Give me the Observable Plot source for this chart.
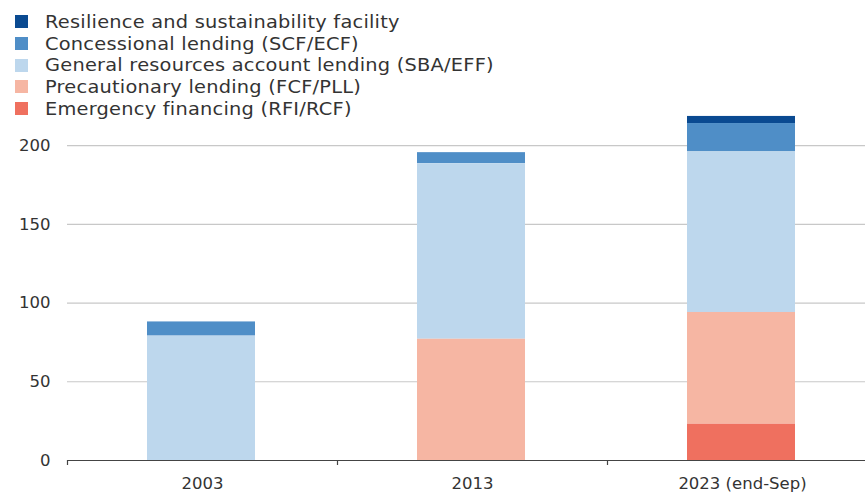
<!DOCTYPE html>
<html>
<head>
<meta charset="utf-8">
<script src="https://cdn.jsdelivr.net/npm/d3@7"></script>
<script src="https://cdn.jsdelivr.net/npm/@observablehq/plot@0.6"></script>
<style>
  html, body { margin: 0; padding: 0; background: #fff; }
  body { width: 865px; height: 497px; overflow: hidden; font-family: "DejaVu Sans", sans-serif; color: #333; }
  #legend { height: 112px; box-sizing: border-box; padding: 11px 0 0 15px; }
  .item { display: flex; align-items: center; height: 21.7px; font-size: 17px; letter-spacing: 0.2px; }
  .sw { width: 13px; height: 13px; margin-right: 17px; flex: none; }
  .lbl { display: inline-block; white-space: nowrap; transform: scaleX(1.14); transform-origin: left center; }
  svg { display: block; }
</style>
</head>
<body>
<div id="legend"></div>
<div id="chart"></div>
<script>
const years = ["2003", "2013", "2023 (end-Sep)"];
const seriesNames = [
  "Resilience and sustainability facility",
  "Concessional lending (SCF/ECF)",
  "General resources account lending (SBA/EFF)",
  "Precautionary lending (FCF/PLL)",
  "Emergency financing (RFI/RCF)"
];
const seriesColors = ["#0a4a91", "#4f8ec7", "#bdd7ed", "#f6b6a3", "#ef705f"];
const rsf = [0, 0, 4.5];
const concessional = [9, 7, 18];
const gra = [79, 111.5, 102];
const precautionary = [0, 77, 71];
const emergency = [0, 0, 23];
const yTicks = [0, 50, 100, 150, 200];

const seriesValues = [rsf, concessional, gra, precautionary, emergency];
const rows = [];
seriesNames.forEach((s, i) => years.forEach((y, j) => rows.push({year: y, series: s, value: seriesValues[i][j]})));

// Legend
const legend = document.getElementById("legend");
seriesNames.forEach((s, i) => {
  const d = document.createElement("div");
  d.className = "item";
  d.innerHTML = `<span class="sw" style="background:${seriesColors[i]}"></span><span class="lbl">${s}</span>`;
  legend.appendChild(d);
});

const chart = Plot.plot({
  width: 865,
  height: 385,
  marginLeft: 67,
  marginRight: -12,
  marginTop: 0,
  marginBottom: 37,
  style: {fontFamily: "'DejaVu Sans', sans-serif", fontSize: "16px", color: "#333", background: "#fff"},
  x: {domain: years, padding: 0, label: null},
  y: {domain: [0, 221], label: null},
  color: {domain: seriesNames, range: seriesColors},
  marks: [
    Plot.gridY(yTicks.filter(d => d > 0), {stroke: "#c8c8c8", strokeOpacity: 1, strokeWidth: 1.2}),
    Plot.barY(rows, {
      x: "year", y: "value", fill: "series",
      order: seriesNames.slice().reverse(),
      insetLeft: 80, insetRight: 82
    }),
    Plot.ruleY([0], {stroke: "#444", strokeWidth: 1.2}),
    Plot.axisY({ticks: yTicks, tickSize: 0, tickPadding: 17, fontSize: 16.5, fill: "#333"}),
    Plot.axisX({tickSize: 0, tickPadding: 17, fontSize: 16.5, fill: "#333"}),
    Plot.axisX({tickSize: 5, tickFormat: () => "", dx: -135, stroke: "#444", strokeWidth: 1.2})
  ]
});
document.getElementById("chart").appendChild(chart);
</script>
</body>
</html>
